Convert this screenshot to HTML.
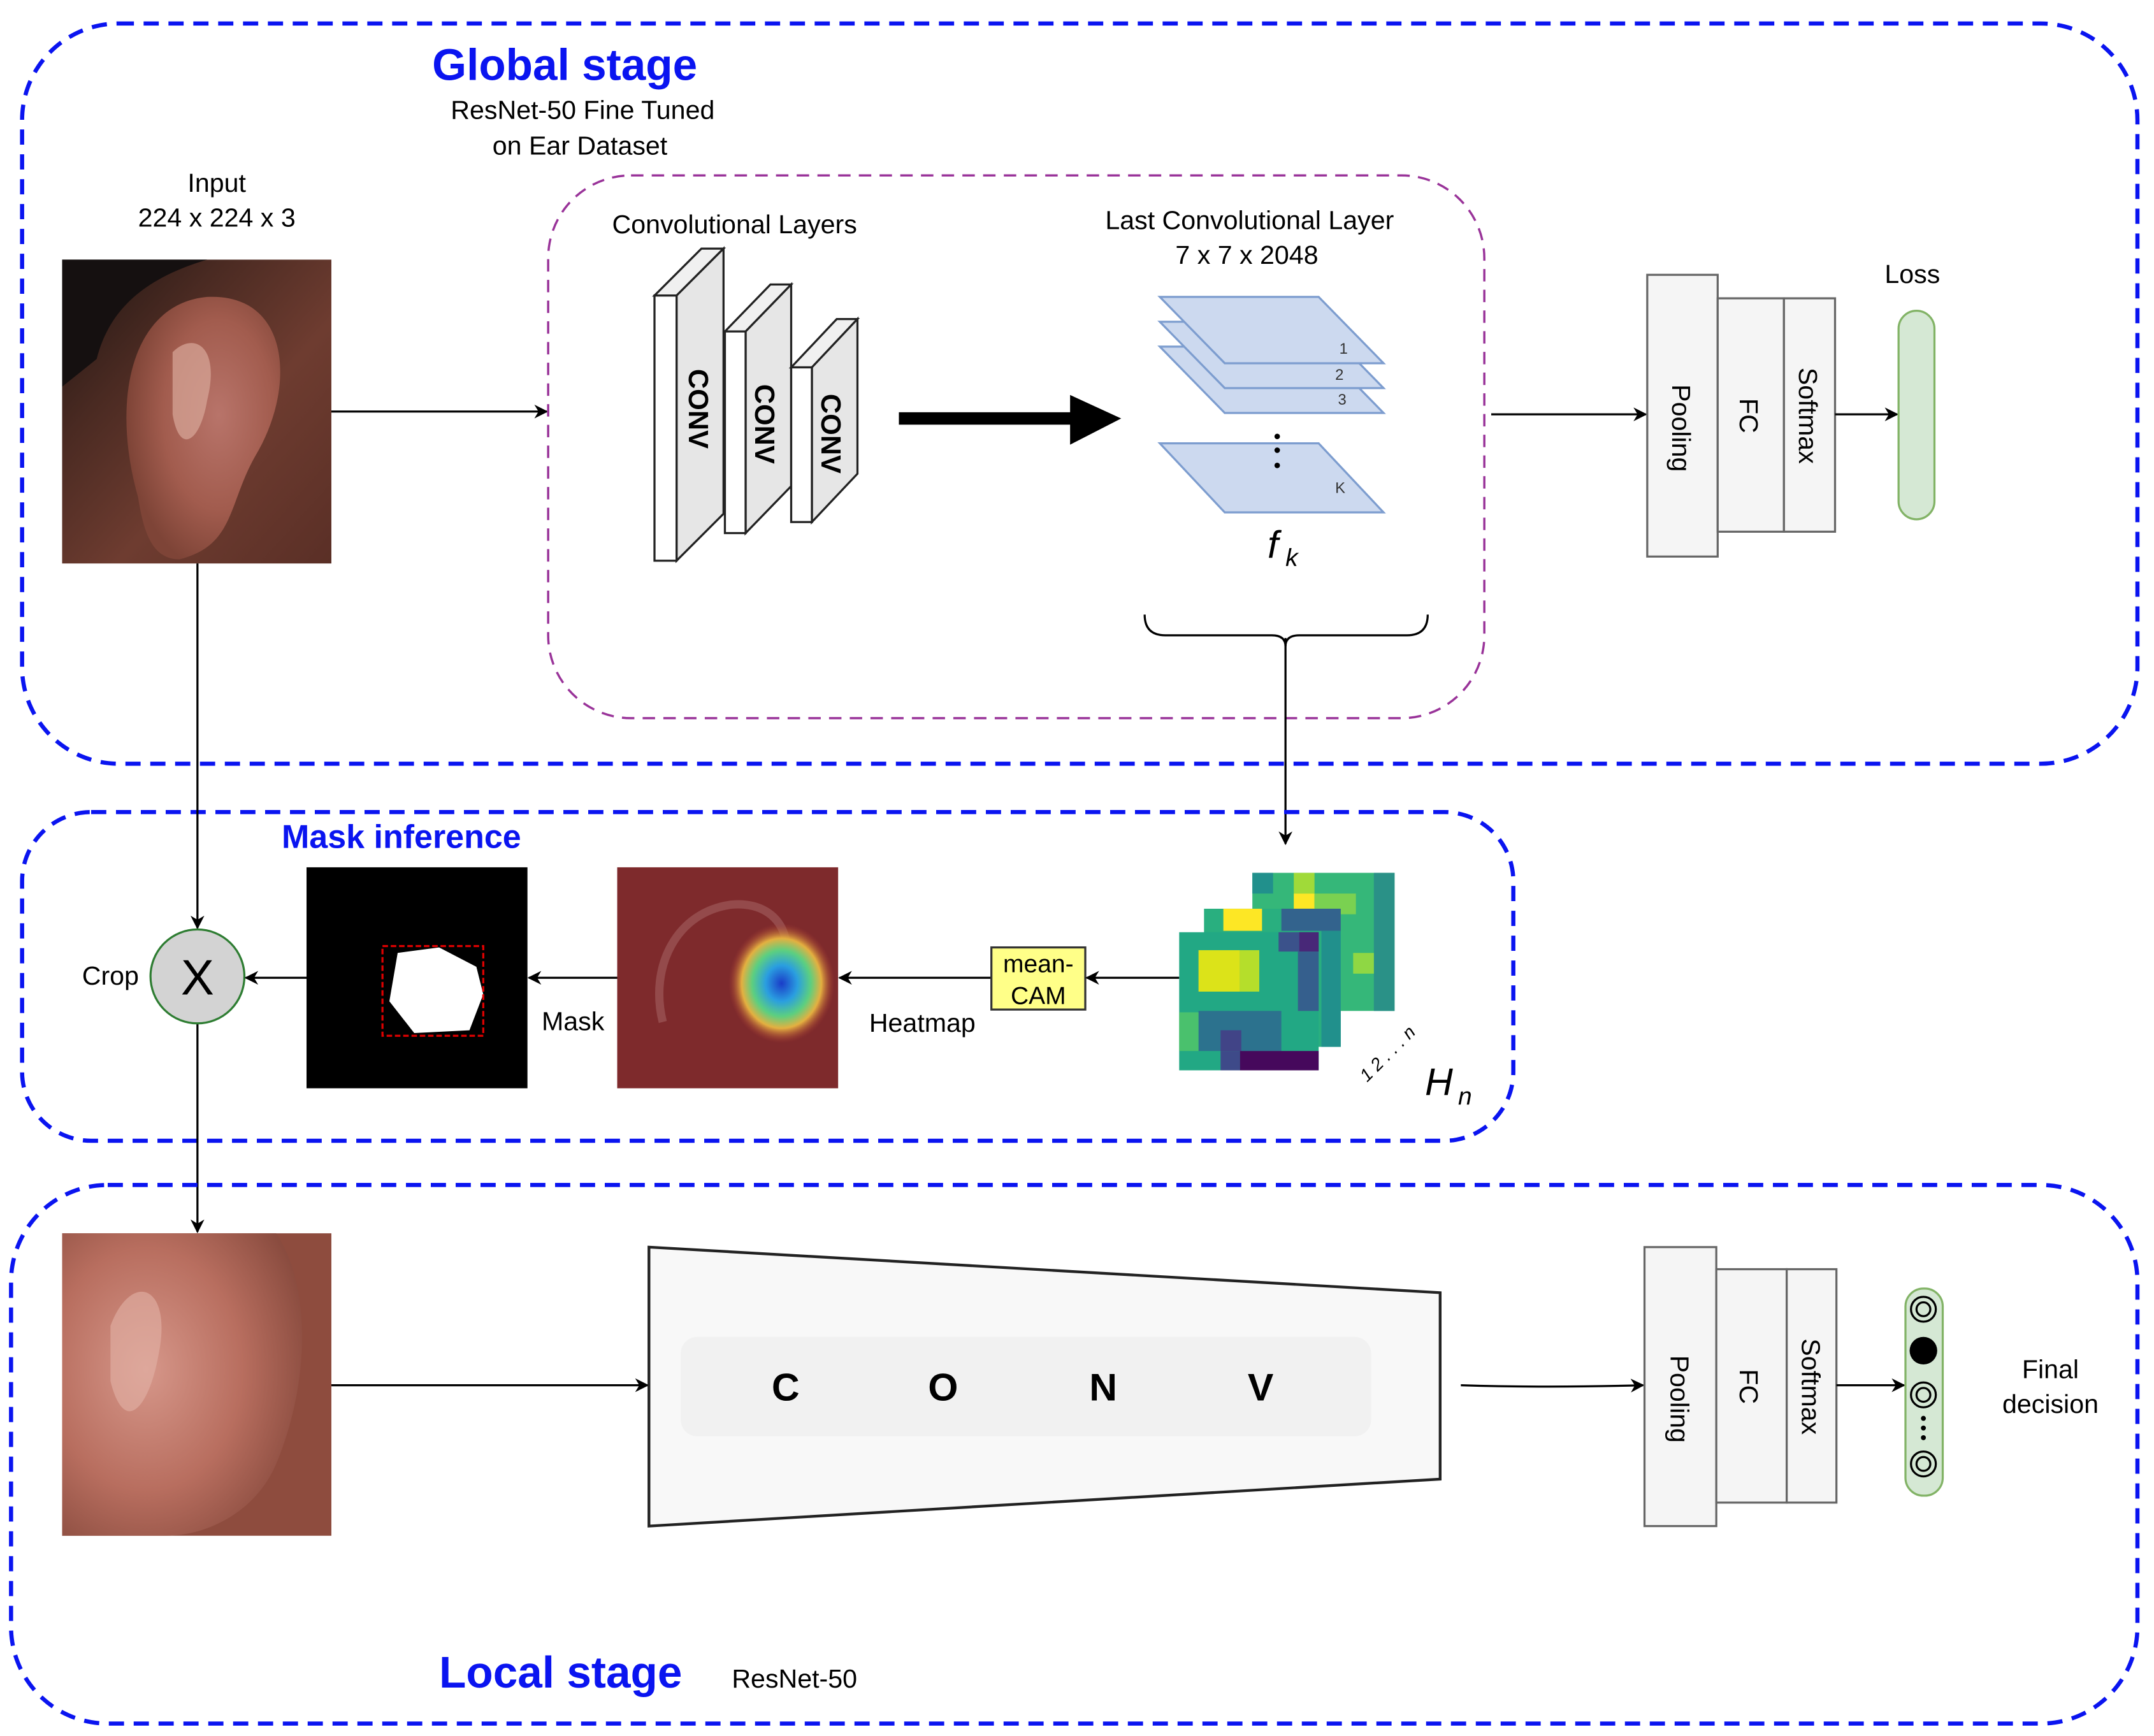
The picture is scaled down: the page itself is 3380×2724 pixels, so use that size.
<!DOCTYPE html>
<html><head><meta charset="utf-8"><style>
html,body{margin:0;padding:0;background:#fff}
svg{display:block}
text{font-family:"Liberation Sans",sans-serif}
</style></head><body>
<svg width="3380" height="2724" viewBox="0 0 1560 1257" preserveAspectRatio="none" xmlns="http://www.w3.org/2000/svg">
<defs>
<marker id="a" markerWidth="10" markerHeight="10" refX="9" refY="5" orient="auto" markerUnits="userSpaceOnUse"><path d="M0,0 L10,5 L0,10 L3,5 z" fill="#000"/></marker>
<linearGradient id="bg1" x1="0" y1="0" x2="1" y2="1">
<stop offset="0" stop-color="#1e1512"/><stop offset="0.3" stop-color="#4a2a22"/><stop offset="0.6" stop-color="#6e3c30"/><stop offset="1" stop-color="#5a2f26"/></linearGradient>
<radialGradient id="earA" cx="0.6" cy="0.45" r="0.6">
<stop offset="0" stop-color="#b8746a"/><stop offset="0.6" stop-color="#a25c4e"/><stop offset="1" stop-color="#7e4437"/></radialGradient>
<radialGradient id="ear2" cx="0.35" cy="0.45" r="0.8">
<stop offset="0" stop-color="#d6978a"/><stop offset="0.5" stop-color="#b86e5f"/><stop offset="1" stop-color="#7a4034"/></radialGradient>
<radialGradient id="hm" cx="0.6" cy="0.5" r="0.35">
<stop offset="0" stop-color="#1a3cc8"/><stop offset="0.3" stop-color="#2a9ee0"/><stop offset="0.55" stop-color="#5ccf80"/><stop offset="0.75" stop-color="#e4b040"/><stop offset="1" stop-color="#a83a34" stop-opacity="0"/></radialGradient>
</defs>

<!-- Global stage -->
<rect x="16" y="17" width="1532" height="536" rx="70" fill="none" stroke="#0a14f0" stroke-width="3" stroke-dasharray="11 7"/>
<text x="313" y="58" font-size="32" font-weight="bold" fill="#0a14f0">Global stage</text>
<text x="422" y="86" font-size="19" text-anchor="middle">ResNet-50 Fine Tuned</text>
<text x="420" y="112" font-size="19" text-anchor="middle">on Ear Dataset</text>
<text x="157" y="139" font-size="19" text-anchor="middle">Input</text>
<text x="157" y="164" font-size="19" text-anchor="middle">224 x 224 x 3</text>
<rect x="45" y="188" width="195" height="220" fill="url(#bg1)"/>
<path d="M45,188 L150,188 C110,200 80,220 70,260 L45,280z" fill="#151010"/>
<path d="M100,360 C80,290 95,220 150,215 C210,212 215,280 185,330 C165,365 170,395 130,405 C110,405 104,385 100,360z" fill="url(#earA)"/>
<path d="M125,255 C140,240 160,250 150,290 C145,320 130,330 125,300z" fill="#d9a89a" opacity="0.7"/>
<line x1="240" y1="298" x2="396" y2="298" stroke="#000" stroke-width="1.5" marker-end="url(#a)"/>

<rect x="397" y="127" width="678" height="393" rx="60" fill="none" stroke="#993399" stroke-width="1.6" stroke-dasharray="9 6"/>
<text x="532" y="169" font-size="19" text-anchor="middle">Convolutional Layers</text>
<g stroke="#222" stroke-width="1.5">
<polygon points="474,214 490,214 524,180 508,180" fill="#f0f0f0"/>
<polygon points="490,214 524,180 524,372 490,406" fill="#e6e6e6"/>
<rect x="474" y="214" width="16" height="192" fill="#fff"/>
<polygon points="525,240 540,240 573,206 558,206" fill="#f0f0f0"/>
<polygon points="540,240 573,206 573,352 540,386" fill="#e6e6e6"/>
<rect x="525" y="240" width="15" height="146" fill="#fff"/>
<polygon points="573,266 588,266 621,231 606,231" fill="#f0f0f0"/>
<polygon points="588,266 621,231 621,343 588,378" fill="#e6e6e6"/>
<rect x="573" y="266" width="15" height="112" fill="#fff"/>
</g>
<text transform="translate(499,296) rotate(90)" font-size="20" font-weight="bold" text-anchor="middle">CONV</text>
<text transform="translate(547,307) rotate(90)" font-size="20" font-weight="bold" text-anchor="middle">CONV</text>
<text transform="translate(595,314) rotate(90)" font-size="20" font-weight="bold" text-anchor="middle">CONV</text>
<line x1="651" y1="303" x2="780" y2="303" stroke="#000" stroke-width="9"/>
<polygon points="775,286 812,303 775,322" fill="#000"/>

<text x="905" y="166" font-size="19" text-anchor="middle">Last Convolutional Layer</text>
<text x="903" y="191" font-size="19" text-anchor="middle">7 x 7 x 2048</text>
<g fill="#ccd9ef" stroke="#7d9dcf" stroke-width="1.5">
<polygon points="840,251 955,251 1002,299 887,299"/>
<polygon points="840,233 955,233 1002,281 887,281"/>
<polygon points="840,215 955,215 1002,263 887,263"/>
<polygon points="840,321 955,321 1002,371 887,371"/>
</g>
<g font-family="Liberation Serif" font-size="11" fill="#333">
<text x="970" y="256">1</text><text x="967" y="275">2</text><text x="969" y="293">3</text></g>
<text x="967" y="357" font-size="11" fill="#333">K</text>
<circle cx="925" cy="316" r="2" fill="#000"/><circle cx="925" cy="326" r="2" fill="#000"/><circle cx="925" cy="337" r="2" fill="#000"/>
<text x="918" y="404" font-family="Liberation Serif" font-style="italic" font-size="28">f</text>
<text x="931" y="410" font-family="Liberation Serif" font-style="italic" font-size="18">k</text>
<path d="M829,445 Q829,460 844,460 L921,460 Q931,460 931,468 Q931,460 941,460 L1019,460 Q1034,460 1034,445" fill="none" stroke="#000" stroke-width="1.5"/>
<line x1="931" y1="462" x2="931" y2="611" stroke="#000" stroke-width="1.5" marker-end="url(#a)"/>

<line x1="1080" y1="300" x2="1192" y2="300" stroke="#000" stroke-width="1.5" marker-end="url(#a)"/>
<g fill="#f5f5f5" stroke="#666" stroke-width="1.5">
<rect x="1193" y="199" width="51" height="204"/><rect x="1244" y="216" width="48" height="169"/><rect x="1292" y="216" width="37" height="169"/></g>
<text transform="translate(1211,310) rotate(90)" font-size="19" text-anchor="middle">Pooling</text>
<text transform="translate(1260,301) rotate(90)" font-size="19" text-anchor="middle">FC</text>
<text transform="translate(1303,301) rotate(90)" font-size="19" text-anchor="middle">Softmax</text>
<line x1="1329" y1="300" x2="1374" y2="300" stroke="#000" stroke-width="1.5" marker-end="url(#a)"/>
<rect x="1375" y="225" width="26" height="151" rx="13" fill="#d5e8d4" stroke="#82b366" stroke-width="1.5"/>
<text x="1385" y="205" font-size="19" text-anchor="middle">Loss</text>

<!-- Mask inference -->
<rect x="16" y="588" width="1080" height="238" rx="50" fill="none" stroke="#0a14f0" stroke-width="3" stroke-dasharray="11 7"/>
<text x="204" y="614" font-size="24" font-weight="bold" fill="#0a14f0">Mask inference</text>
<line x1="143" y1="408" x2="143" y2="672" stroke="#000" stroke-width="1.5" marker-end="url(#a)"/>
<line x1="143" y1="741" x2="143" y2="892" stroke="#000" stroke-width="1.5" marker-end="url(#a)"/>
<circle cx="143" cy="707" r="34" fill="#d3d3d3" stroke="#2e7d32" stroke-width="1.5"/>
<text x="143" y="720" font-size="36" text-anchor="middle">X</text>
<text x="80" y="713" font-size="19" text-anchor="middle">Crop</text>
<rect x="222" y="628" width="160" height="160" fill="#000"/>
<polygon points="288,690 318,686 345,700 350,720 340,746 300,748 282,725" fill="#fff"/>
<rect x="277" y="685" width="73" height="65" fill="none" stroke="#d00" stroke-width="1.5" stroke-dasharray="4 2"/>
<line x1="222" y1="708" x2="178" y2="708" stroke="#000" stroke-width="1.5" marker-end="url(#a)"/>
<line x1="447" y1="708" x2="383" y2="708" stroke="#000" stroke-width="1.5" marker-end="url(#a)"/>
<text x="415" y="746" font-size="19" text-anchor="middle">Mask</text>
<rect x="447" y="628" width="160" height="160" fill="#7e2a2c"/>
<path d="M480,740 C470,700 490,660 530,655 C570,652 580,690 560,720" fill="none" stroke="#a36060" stroke-width="6" opacity="0.6"/>
<ellipse cx="555" cy="712" rx="55" ry="62" fill="url(#hm)"/>
<line x1="718" y1="708" x2="608" y2="708" stroke="#000" stroke-width="1.5" marker-end="url(#a)"/>
<text x="668" y="747" font-size="19" text-anchor="middle">Heatmap</text>
<rect x="718" y="686" width="68" height="45" fill="#ffff88" stroke="#333" stroke-width="1.5"/>
<text x="752" y="704" font-size="18" text-anchor="middle">mean-</text>
<text x="752" y="727" font-size="18" text-anchor="middle">CAM</text>
<line x1="854" y1="708" x2="787" y2="708" stroke="#000" stroke-width="1.5" marker-end="url(#a)"/>
<rect x="907" y="632" width="103" height="100" fill="#35b779"/>
<rect x="907" y="632" width="15" height="15" fill="#21908c"/><rect x="937" y="632" width="15" height="15" fill="#a0da39"/><rect x="937" y="647" width="15" height="15" fill="#fde725"/><rect x="952" y="647" width="30" height="15" fill="#7ad151"/><rect x="995" y="632" width="15" height="100" fill="#2a9187"/><rect x="980" y="690" width="15" height="15" fill="#8fd744"/>
<rect x="872" y="658" width="99" height="100" fill="#29af7f"/>
<rect x="886" y="658" width="28" height="16" fill="#fde725"/><rect x="928" y="658" width="43" height="16" fill="#33638d"/><rect x="957" y="674" width="14" height="84" fill="#21908c"/>
<rect x="854" y="675" width="101" height="100" fill="#22a884"/>
<rect x="868" y="688" width="30" height="30" fill="#dce319"/><rect x="898" y="688" width="14" height="30" fill="#b5de2b"/><rect x="926" y="675" width="29" height="14" fill="#3b528b"/><rect x="941" y="675" width="14" height="14" fill="#482878"/><rect x="940" y="689" width="15" height="43" fill="#355f8d"/><rect x="868" y="732" width="60" height="29" fill="#2c728e"/><rect x="884" y="746" width="15" height="15" fill="#414487"/><rect x="898" y="761" width="57" height="14" fill="#46085c"/><rect x="884" y="761" width="14" height="14" fill="#3e4a89"/><rect x="854" y="733" width="14" height="28" fill="#4ac16d"/>
<text transform="translate(1008,766) rotate(-45)" font-family="Liberation Serif" font-style="italic" font-size="13" text-anchor="middle">1  2  . . .  n</text>
<text x="1032" y="793" font-family="Liberation Serif" font-style="italic" font-size="28">H</text>
<text x="1056" y="800" font-family="Liberation Serif" font-style="italic" font-size="18">n</text>

<!-- Local stage -->
<rect x="8" y="858" width="1540" height="390" rx="70" fill="none" stroke="#0a14f0" stroke-width="3" stroke-dasharray="11 7"/>
<rect x="45" y="893" width="195" height="219" fill="#8e4c3e"/>
<path d="M45,893 L200,893 C225,930 225,1000 200,1060 C185,1095 150,1112 120,1112 L45,1112z" fill="url(#ear2)"/>
<path d="M80,960 C95,920 125,930 115,980 C108,1020 90,1040 80,1000z" fill="#e2b3a6" opacity="0.6"/>
<line x1="240" y1="1003" x2="469" y2="1003" stroke="#000" stroke-width="1.5" marker-end="url(#a)"/>
<polygon points="470,903 1043,936 1043,1071 470,1105" fill="#f8f8f8" stroke="#222" stroke-width="2"/>
<rect x="493" y="968" width="500" height="72" rx="12" fill="#f1f1f1"/>
<g font-size="28" font-weight="bold" text-anchor="middle">
<text x="569" y="1014">C</text><text x="683" y="1014">O</text><text x="799" y="1014">N</text><text x="913" y="1014">V</text></g>
<path d="M1058,1003 Q1120,1005 1190,1003" fill="none" stroke="#000" stroke-width="1.5" marker-end="url(#a)"/>
<g fill="#f5f5f5" stroke="#666" stroke-width="1.5">
<rect x="1191" y="903" width="52" height="202"/><rect x="1243" y="919" width="51" height="169"/><rect x="1294" y="919" width="36" height="169"/></g>
<text transform="translate(1210,1013) rotate(90)" font-size="19" text-anchor="middle">Pooling</text>
<text transform="translate(1260,1004) rotate(90)" font-size="19" text-anchor="middle">FC</text>
<text transform="translate(1305,1004) rotate(90)" font-size="19" text-anchor="middle">Softmax</text>
<line x1="1330" y1="1003" x2="1379" y2="1003" stroke="#000" stroke-width="1.5" marker-end="url(#a)"/>
<rect x="1380" y="933" width="27" height="150" rx="13" fill="#d5e8d4" stroke="#82b366" stroke-width="1.5"/>
<g fill="none" stroke="#000" stroke-width="1.5">
<circle cx="1393" cy="948" r="9"/><circle cx="1393" cy="948" r="5"/>
<circle cx="1393" cy="1010" r="9"/><circle cx="1393" cy="1010" r="5"/>
<circle cx="1393" cy="1060" r="9"/><circle cx="1393" cy="1060" r="5"/></g>
<circle cx="1393" cy="978" r="10" fill="#000"/>
<circle cx="1393" cy="1027" r="1.8"/><circle cx="1393" cy="1034" r="1.8"/><circle cx="1393" cy="1041" r="1.8"/>
<text x="1485" y="998" font-size="19" text-anchor="middle">Final</text>
<text x="1485" y="1023" font-size="19" text-anchor="middle">decision</text>
<text x="318" y="1222" font-size="32" font-weight="bold" fill="#0a14f0">Local stage</text>
<text x="530" y="1222" font-size="19">ResNet-50</text>
</svg>
</body></html>
